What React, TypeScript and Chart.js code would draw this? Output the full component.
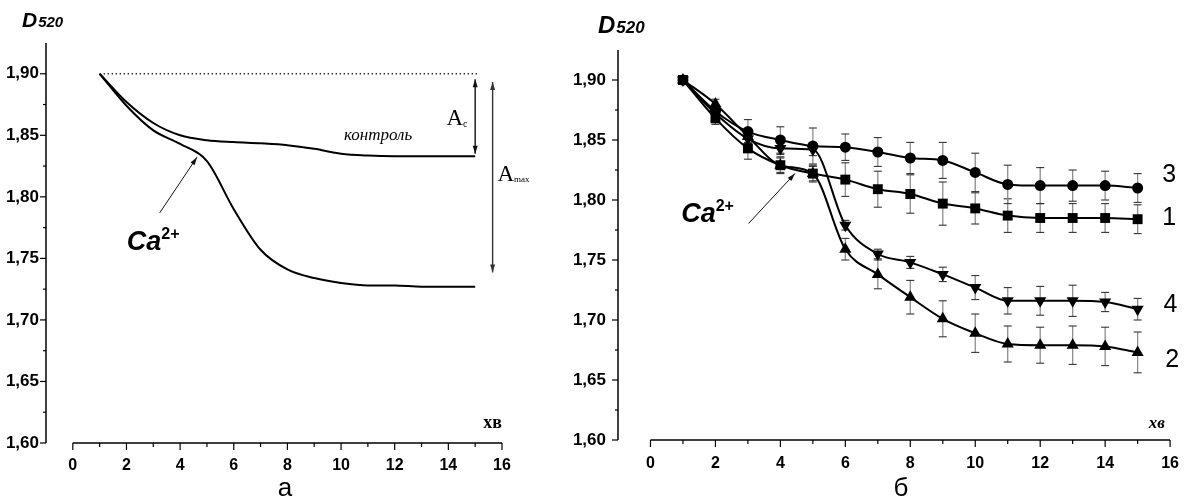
import React, { useEffect, useRef } from "react";
import { Chart, registerables } from "chart.js";
Chart.register(...registerables);

// ---------- data ----------
const timeMin = [1, 2, 3, 4, 5, 6, 7, 8, 9, 10, 11, 12, 13, 14, 15];

// panel "а"
const controlD = [1.9, 1.877, 1.86, 1.85, 1.846, 1.8445, 1.8435, 1.842, 1.839, 1.835, 1.8335, 1.833, 1.833, 1.833, 1.833];
const calciumD = [1.9, 1.874, 1.854, 1.843, 1.829, 1.79, 1.757, 1.741, 1.734, 1.73, 1.728, 1.728, 1.727, 1.727, 1.727];
const baselineX = [1, 15.1];
const baselineD = [1.9, 1.9];

// panel "б"
const curve1 = [1.9, 1.868, 1.843, 1.829, 1.822, 1.817, 1.809, 1.805, 1.797, 1.793, 1.787, 1.785, 1.785, 1.785, 1.784];
const curve2 = [1.9, 1.88, 1.853, 1.829, 1.822, 1.759, 1.738, 1.719, 1.701, 1.689, 1.68, 1.679, 1.679, 1.678, 1.673];
const curve3 = [1.9, 1.874, 1.857, 1.85, 1.845, 1.844, 1.84, 1.835, 1.833, 1.823, 1.813, 1.812, 1.812, 1.812, 1.81];
const curve4 = [1.9, 1.872, 1.851, 1.843, 1.842, 1.779, 1.755, 1.748, 1.738, 1.727, 1.716, 1.716, 1.716, 1.715, 1.709];
const err1 = [0, 0.005, 0.009, 0.007, 0.007, 0.014, 0.015, 0.016, 0.018, 0.013, 0.014, 0.012, 0.012, 0.012, 0.012];
const err2 = [0, 0.004, 0.005, 0.006, 0.006, 0.009, 0.012, 0.014, 0.015, 0.016, 0.015, 0.015, 0.016, 0.016, 0.017];
const err3 = [0, 0.004, 0.010, 0.011, 0.015, 0.011, 0.012, 0.013, 0.015, 0.016, 0.016, 0.015, 0.013, 0.012, 0.012];
const err4 = [0, 0.003, 0.004, 0.005, 0.005, 0.004, 0.004, 0.005, 0.006, 0.010, 0.011, 0.012, 0.013, 0.008, 0.009];
const curveLabels = ["1", "2", "3", "4"];

// axes
const xTicks = [0, 2, 4, 6, 8, 10, 12, 14, 16];
const xTickLabels = ["0", "2", "4", "6", "8", "10", "12", "14", "16"];
const xMinorTicks = [1, 3, 5, 7, 9, 11, 13, 15];
const yTicks = [1.6, 1.65, 1.7, 1.75, 1.8, 1.85, 1.9];
const yTickLabels = ["1,60", "1,65", "1,70", "1,75", "1,80", "1,85", "1,90"];
const yMinorTicks = [1.625, 1.675, 1.725, 1.775, 1.825, 1.875];

const SANS = "'Liberation Sans', Arial, sans-serif";
const SERIF = "'Liberation Serif', 'Times New Roman', serif";

type Note = { text: string; x: number; y: number; font: string; align?: CanvasTextAlign; baseline?: CanvasTextBaseline; sup?: string; supFont?: string; supRise?: number; sub?: string; subFont?: string; subDrop?: number };
type Arrow = { x1: number; y1: number; x2: number; y2: number; both?: boolean; width: number; color: string };
type PixText = { text: string; px: number; py: number; font: string; align?: CanvasTextAlign; baseline?: CanvasTextBaseline; sub?: string; subFont?: string };

type PanelSpec = {
  width: number;
  pad: { left: number; right: number; top: number; bottom: number };
  yAxisWidth: number;
  yPad: number;
  xPad: number;
  xFont: number;
  yFont: number;
  datasets: any[];
  errors?: { data: number[]; err: number[] }[];
  notes: Note[];
  arrows: Arrow[];
  pixTexts: PixText[];
};

const pts = (xs: number[], ys: number[]) => xs.map((x, i) => ({ x, y: ys[i] }));

function drawArrowHead(ctx: CanvasRenderingContext2D, fx: number, fy: number, tx: number, ty: number, len: number, half: number) {
  const a = Math.atan2(ty - fy, tx - fx);
  ctx.beginPath();
  ctx.moveTo(tx, ty);
  ctx.lineTo(tx - len * Math.cos(a) + half * Math.sin(a), ty - len * Math.sin(a) - half * Math.cos(a));
  ctx.lineTo(tx - len * Math.cos(a) - half * Math.sin(a), ty - len * Math.sin(a) + half * Math.cos(a));
  ctx.closePath();
  ctx.fill();
}

function makePlugin(spec: PanelSpec) {
  return {
    id: "decor",
    beforeDatasetsDraw(chart: any) {
      const { ctx } = chart;
      const xs = chart.scales.x;
      const ys = chart.scales.y;
      ctx.save();
      ctx.strokeStyle = "#000";
      ctx.lineWidth = 1.5;
      const yBottom = ys.getPixelForValue(1.6);
      const axX = chart.chartArea.left;
      ctx.beginPath();
      ctx.moveTo(axX, chart.chartArea.top);
      ctx.lineTo(axX, yBottom);
      ctx.stroke();
      ctx.beginPath();
      ctx.moveTo(xs.getPixelForValue(0), yBottom);
      ctx.lineTo(xs.getPixelForValue(16), yBottom);
      ctx.stroke();
      ctx.lineWidth = 1.2;
      yTicks.forEach((v) => {
        const p = ys.getPixelForValue(v);
        ctx.beginPath(); ctx.moveTo(axX - 6, p); ctx.lineTo(axX, p); ctx.stroke();
      });
      yMinorTicks.forEach((v) => {
        const p = ys.getPixelForValue(v);
        ctx.beginPath(); ctx.moveTo(axX - 3, p); ctx.lineTo(axX, p); ctx.stroke();
      });
      xTicks.forEach((v) => {
        const p = xs.getPixelForValue(v);
        ctx.beginPath(); ctx.moveTo(p, yBottom); ctx.lineTo(p, yBottom + 7); ctx.stroke();
      });
      xMinorTicks.forEach((v) => {
        const p = xs.getPixelForValue(v);
        ctx.beginPath(); ctx.moveTo(p, yBottom); ctx.lineTo(p, yBottom + 4); ctx.stroke();
      });
      (spec.errors || []).forEach((s) => {
        s.data.forEach((v, i) => {
          const e = s.err[i];
          if (!e) return;
          const px = xs.getPixelForValue(timeMin[i]);
          const top = ys.getPixelForValue(v + e);
          const bot = ys.getPixelForValue(v - e);
          ctx.strokeStyle = "#8c8c8c";
          ctx.lineWidth = 1.3;
          ctx.beginPath(); ctx.moveTo(px, top); ctx.lineTo(px, bot); ctx.stroke();
          ctx.strokeStyle = "#333";
          ctx.lineWidth = 1.1;
          ctx.beginPath(); ctx.moveTo(px - 4, top); ctx.lineTo(px + 4, top); ctx.stroke();
          ctx.beginPath(); ctx.moveTo(px - 4, bot); ctx.lineTo(px + 4, bot); ctx.stroke();
        });
      });
      ctx.restore();
    },
    afterDatasetsDraw(chart: any) {
      const { ctx } = chart;
      const xs = chart.scales.x;
      const ys = chart.scales.y;
      ctx.save();
      spec.arrows.forEach((a) => {
        const x1 = xs.getPixelForValue(a.x1), y1 = ys.getPixelForValue(a.y1);
        const x2 = xs.getPixelForValue(a.x2), y2 = ys.getPixelForValue(a.y2);
        ctx.strokeStyle = a.color;
        ctx.fillStyle = a.color;
        ctx.lineWidth = a.width;
        ctx.beginPath(); ctx.moveTo(x1, y1); ctx.lineTo(x2, y2); ctx.stroke();
        drawArrowHead(ctx, x1, y1, x2, y2, 8, 2.5);
        if (a.both) drawArrowHead(ctx, x2, y2, x1, y1, 8, 2.5);
      });
      ctx.fillStyle = "#000";
      spec.notes.forEach((n) => {
        const px = xs.getPixelForValue(n.x), py = ys.getPixelForValue(n.y);
        ctx.font = n.font;
        ctx.textAlign = n.align || "left";
        ctx.textBaseline = n.baseline || "alphabetic";
        ctx.fillText(n.text, px, py);
        const w = ctx.measureText(n.text).width;
        if (n.sup) {
          ctx.font = n.supFont || n.font;
          ctx.textAlign = "left";
          ctx.fillText(n.sup, px + w, py - (n.supRise || 8));
        }
        if (n.sub) {
          ctx.font = n.subFont || n.font;
          ctx.textAlign = "left";
          ctx.fillText(n.sub, px + w, py + (n.subDrop || 3));
        }
      });
      spec.pixTexts.forEach((t) => {
        ctx.font = t.font;
        ctx.textAlign = t.align || "left";
        ctx.textBaseline = t.baseline || "alphabetic";
        ctx.fillText(t.text, t.px, t.py);
        if (t.sub) {
          const w = ctx.measureText(t.text).width;
          ctx.font = t.subFont || t.font;
          ctx.textAlign = "left";
          ctx.fillText(t.sub, t.px + w + 1, t.py);
        }
      });
      ctx.restore();
    },
  };
}

function buildConfig(spec: PanelSpec): any {
  return {
    type: "line",
    data: { datasets: spec.datasets },
    plugins: [makePlugin(spec)],
    options: {
      animation: false,
      responsive: false,
      devicePixelRatio: 1,
      layout: { padding: spec.pad },
      plugins: { legend: { display: false }, tooltip: { enabled: false } },
      events: [],
      scales: {
        x: {
          type: "linear",
          min: -1,
          max: 16,
          grid: { display: false, drawTicks: false },
          border: { display: false },
          afterBuildTicks: (s: any) => { s.ticks = xTicks.map((v) => ({ value: v })); },
          afterFit: (s: any) => { s.height = 30; },
          ticks: {
            autoSkip: false,
            maxRotation: 0,
            padding: spec.xPad,
            color: "#000",
            font: { family: SANS, size: spec.xFont, weight: "bold" },
            callback: (_v: any, i: number) => xTickLabels[i],
          },
        },
        y: {
          type: "linear",
          min: 1.6,
          max: 1.925,
          grid: { display: false, drawTicks: false },
          border: { display: false },
          afterBuildTicks: (s: any) => { s.ticks = yTicks.map((v) => ({ value: v })); },
          afterFit: (s: any) => { s.width = spec.yAxisWidth; },
          ticks: {
            autoSkip: false,
            padding: spec.yPad,
            color: "#000",
            font: { family: SANS, size: spec.yFont, weight: "bold" },
            callback: (_v: any, i: number) => yTickLabels[i],
          },
        },
      },
    },
  };
}

const lineBase = { showLine: true, borderColor: "#000", backgroundColor: "#000", cubicInterpolationMode: "monotone", fill: false };

const leftSpec: PanelSpec = {
  width: 560,
  pad: { left: 0, right: 58, top: 43, bottom: 27 },
  yAxisWidth: 46,
  yPad: 7,
  xPad: 13,
  xFont: 16,
  yFont: 17,
  datasets: [
    { ...lineBase, data: pts(baselineX, baselineD), borderWidth: 1.3, borderDash: [1.3, 2.7], borderColor: "#222", pointRadius: 0 },
    { ...lineBase, data: pts(timeMin, controlD), borderWidth: 2, pointRadius: 0 },
    { ...lineBase, data: pts(timeMin, calciumD), borderWidth: 2, pointRadius: 0 },
  ],
  notes: [
    { text: "контроль", x: 11.38, y: 1.85, font: `italic 17px ${SERIF}`, align: "center", baseline: "middle" },
    { text: "A", x: 13.93, y: 1.8585, font: `23px ${SERIF}`, sub: "c", subFont: `10px ${SERIF}`, subDrop: 2 },
    { text: "A", x: 15.83, y: 1.8126, font: `23px ${SERIF}`, sub: "max", subFont: `9px ${SERIF}`, subDrop: 1 },
    { text: "Ca", x: 2.01, y: 1.7565, font: `italic bold 27px ${SANS}`, sup: "2+", supFont: `bold 16px ${SANS}`, supRise: 11 },
    { text: "хв", x: 15.3, y: 1.6122, font: `bold 18px ${SERIF}` },
  ],
  arrows: [
    { x1: 15.0, y1: 1.835, x2: 15.0, y2: 1.8955, both: true, width: 1.4, color: "#111" },
    { x1: 15.65, y1: 1.7386, x2: 15.65, y2: 1.8933, both: true, width: 1.4, color: "#333" },
    { x1: 3.24, y1: 1.787, x2: 4.63, y2: 1.8322, width: 1, color: "#111" },
  ],
  pixTexts: [
    { text: "D", px: 22, py: 27, font: `italic bold 21px ${SANS}`, sub: "520", subFont: `italic bold 15px ${SANS}` },
    { text: "а", px: 285, py: 496, font: `26px ${SANS}`, align: "center" },
  ],
};

const markerSet = (data: number[], style: string, radius: number, rotation = 0) => ({
  ...lineBase,
  data: pts(timeMin, data),
  borderWidth: 2,
  pointStyle: style,
  pointRadius: radius,
  pointRotation: rotation,
  pointBorderWidth: 0,
  pointBackgroundColor: "#000",
});

const rightSpec: PanelSpec = {
  width: 633,
  pad: { left: 0, right: 17, top: 50, bottom: 30 },
  yAxisWidth: 58,
  yPad: 12,
  xPad: 14,
  xFont: 16,
  yFont: 17,
  datasets: [
    markerSet(curve1, "rect", 7),
    markerSet(curve2, "triangle", 7),
    markerSet(curve3, "circle", 5.5),
    markerSet(curve4, "triangle", 7, 180),
  ],
  errors: [
    { data: curve1, err: err1 },
    { data: curve2, err: err2 },
    { data: curve3, err: err3 },
    { data: curve4, err: err4 },
  ],
  notes: [
    { text: "Ca", x: 0.945, y: 1.7815, font: `italic bold 27px ${SANS}`, sup: "2+", supFont: `bold 16px ${SANS}`, supRise: 11 },
    { text: curveLabels[2], x: 15.76, y: 1.8204, font: `25px ${SANS}`, baseline: "middle" },
    { text: curveLabels[0], x: 15.76, y: 1.7846, font: `25px ${SANS}`, baseline: "middle" },
    { text: curveLabels[3], x: 15.8, y: 1.7121, font: `25px ${SANS}`, baseline: "middle" },
    { text: curveLabels[1], x: 15.85, y: 1.6663, font: `25px ${SANS}`, baseline: "middle" },
    { text: "хв", x: 15.34, y: 1.61, font: `italic bold 17px ${SERIF}` },
  ],
  arrows: [{ x1: 3.02, y1: 1.7804, x2: 4.45, y2: 1.8221, width: 1, color: "#111" }],
  pixTexts: [
    { text: "D", px: 38, py: 33, font: `italic bold 24px ${SANS}`, sub: "520", subFont: `italic bold 17px ${SANS}` },
    { text: "б", px: 341, py: 496, font: `26px ${SANS}`, align: "center" },
  ],
};

function Panel({ spec, left }: { spec: PanelSpec; left: number }) {
  const ref = useRef<HTMLCanvasElement | null>(null);
  useEffect(() => {
    if (!ref.current) return;
    const chart = new Chart(ref.current, buildConfig(spec));
    return () => chart.destroy();
  }, [spec]);
  return (
    <canvas
      ref={ref}
      width={spec.width}
      height={500}
      style={{ position: "absolute", left, top: 0, width: spec.width, height: 500 }}
    />
  );
}

export default function App() {
  return (
    <div style={{ position: "fixed", left: 0, top: 0, width: 1193, height: 500, background: "#fff", overflow: "hidden" }}>
      <Panel spec={leftSpec} left={0} />
      <Panel spec={rightSpec} left={560} />
    </div>
  );
}
